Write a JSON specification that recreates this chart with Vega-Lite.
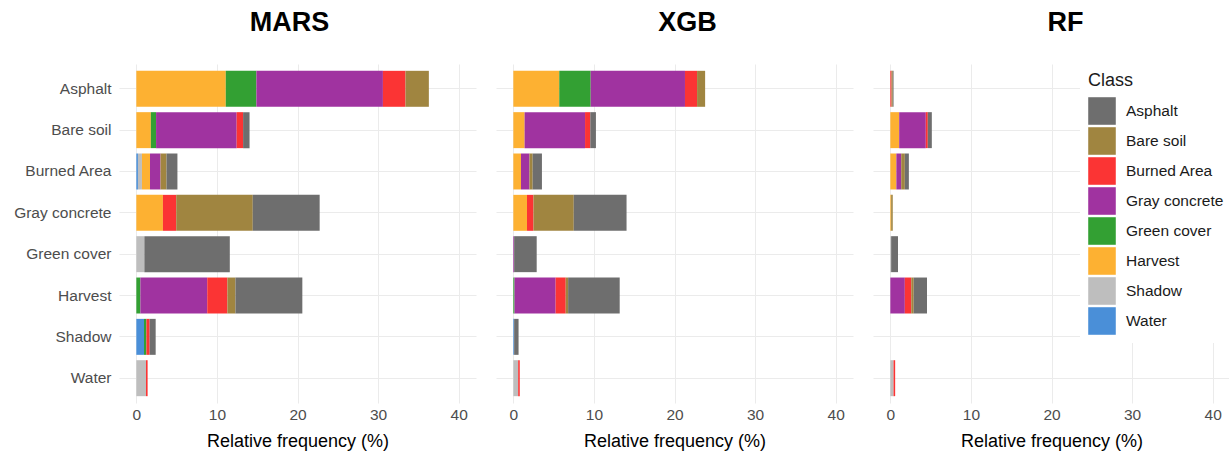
{
  "$schema": "https://vega.github.io/schema/vega-lite/v6.json",
  "background": "white",
  "padding": {"left": 13, "top": 9, "right": 0, "bottom": 0},
  "config": {
    "view": {"stroke": null},
    "font": "Liberation Sans",
    "concat": {"spacing": 20},
    "title": {"fontSize": 27, "fontWeight": "bold", "color": "black", "anchor": "middle", "offset": 27},
    "axisY": {
      "title": null,
      "ticks": false,
      "domain": false,
      "grid": true,
      "bandPosition": 0.5,
      "gridColor": "#ebebeb",
      "labelFontSize": 15.5,
      "labelColor": "#4d4d4d",
      "labelPadding": 8
    },
    "axisX": {
      "titleFontSize": 18,
      "titleFontWeight": "normal",
      "titleColor": "black",
      "titlePadding": 10,
      "ticks": false,
      "domain": false,
      "grid": true,
      "gridColor": "#ebebeb",
      "labelFontSize": 15.5,
      "labelColor": "#4d4d4d",
      "labelPadding": 4
    },
    "legend": {
      "orient": "none",
      "fillColor": "white",
      "padding": 8,
      "titleFontSize": 18,
      "titleFontWeight": "normal",
      "titleColor": "#1a1a1a",
      "titlePadding": 7,
      "labelFontSize": 15.5,
      "labelColor": "#1a1a1a",
      "labelOffset": 10,
      "symbolType": "square",
      "symbolSize": 760,
      "symbolStrokeWidth": 0,
      "symbolOpacity": 1,
      "rowPadding": 2
    }
  },
  "datasets": {
    "freq": [
      {"model": "MARS", "row": "Asphalt", "class": "Harvest", "value": 11.1},
      {"model": "MARS", "row": "Asphalt", "class": "Green cover", "value": 3.8},
      {"model": "MARS", "row": "Asphalt", "class": "Gray concrete", "value": 15.7},
      {"model": "MARS", "row": "Asphalt", "class": "Burned Area", "value": 2.8},
      {"model": "MARS", "row": "Asphalt", "class": "Bare soil", "value": 2.9},
      {"model": "MARS", "row": "Bare soil", "class": "Harvest", "value": 1.8},
      {"model": "MARS", "row": "Bare soil", "class": "Green cover", "value": 0.65},
      {"model": "MARS", "row": "Bare soil", "class": "Gray concrete", "value": 10.0},
      {"model": "MARS", "row": "Bare soil", "class": "Burned Area", "value": 0.8},
      {"model": "MARS", "row": "Bare soil", "class": "Asphalt", "value": 0.8},
      {"model": "MARS", "row": "Burned Area", "class": "Water", "value": 0.2},
      {"model": "MARS", "row": "Burned Area", "class": "Shadow", "value": 0.5},
      {"model": "MARS", "row": "Burned Area", "class": "Harvest", "value": 1.0},
      {"model": "MARS", "row": "Burned Area", "class": "Gray concrete", "value": 1.3},
      {"model": "MARS", "row": "Burned Area", "class": "Bare soil", "value": 0.75},
      {"model": "MARS", "row": "Burned Area", "class": "Asphalt", "value": 1.35},
      {"model": "MARS", "row": "Gray concrete", "class": "Harvest", "value": 3.3},
      {"model": "MARS", "row": "Gray concrete", "class": "Burned Area", "value": 1.65},
      {"model": "MARS", "row": "Gray concrete", "class": "Bare soil", "value": 9.5},
      {"model": "MARS", "row": "Gray concrete", "class": "Asphalt", "value": 8.3},
      {"model": "MARS", "row": "Green cover", "class": "Shadow", "value": 1.0},
      {"model": "MARS", "row": "Green cover", "class": "Asphalt", "value": 10.6},
      {"model": "MARS", "row": "Harvest", "class": "Green cover", "value": 0.5},
      {"model": "MARS", "row": "Harvest", "class": "Gray concrete", "value": 8.3},
      {"model": "MARS", "row": "Harvest", "class": "Burned Area", "value": 2.5},
      {"model": "MARS", "row": "Harvest", "class": "Bare soil", "value": 1.0},
      {"model": "MARS", "row": "Harvest", "class": "Asphalt", "value": 8.3},
      {"model": "MARS", "row": "Shadow", "class": "Water", "value": 0.95},
      {"model": "MARS", "row": "Shadow", "class": "Green cover", "value": 0.3},
      {"model": "MARS", "row": "Shadow", "class": "Burned Area", "value": 0.4},
      {"model": "MARS", "row": "Shadow", "class": "Asphalt", "value": 0.75},
      {"model": "MARS", "row": "Water", "class": "Shadow", "value": 1.2},
      {"model": "MARS", "row": "Water", "class": "Burned Area", "value": 0.2},
      {"model": "XGB", "row": "Asphalt", "class": "Harvest", "value": 5.7},
      {"model": "XGB", "row": "Asphalt", "class": "Green cover", "value": 3.9},
      {"model": "XGB", "row": "Asphalt", "class": "Gray concrete", "value": 11.7},
      {"model": "XGB", "row": "Asphalt", "class": "Burned Area", "value": 1.5},
      {"model": "XGB", "row": "Asphalt", "class": "Bare soil", "value": 1.0},
      {"model": "XGB", "row": "Bare soil", "class": "Harvest", "value": 1.4},
      {"model": "XGB", "row": "Bare soil", "class": "Gray concrete", "value": 7.5},
      {"model": "XGB", "row": "Bare soil", "class": "Burned Area", "value": 0.65},
      {"model": "XGB", "row": "Bare soil", "class": "Asphalt", "value": 0.7},
      {"model": "XGB", "row": "Burned Area", "class": "Harvest", "value": 0.95},
      {"model": "XGB", "row": "Burned Area", "class": "Gray concrete", "value": 1.05},
      {"model": "XGB", "row": "Burned Area", "class": "Bare soil", "value": 0.4},
      {"model": "XGB", "row": "Burned Area", "class": "Asphalt", "value": 1.15},
      {"model": "XGB", "row": "Gray concrete", "class": "Harvest", "value": 1.7},
      {"model": "XGB", "row": "Gray concrete", "class": "Burned Area", "value": 0.8},
      {"model": "XGB", "row": "Gray concrete", "class": "Bare soil", "value": 5.0},
      {"model": "XGB", "row": "Gray concrete", "class": "Asphalt", "value": 6.55},
      {"model": "XGB", "row": "Green cover", "class": "Gray concrete", "value": 0.1},
      {"model": "XGB", "row": "Green cover", "class": "Asphalt", "value": 2.8},
      {"model": "XGB", "row": "Harvest", "class": "Green cover", "value": 0.15},
      {"model": "XGB", "row": "Harvest", "class": "Gray concrete", "value": 5.1},
      {"model": "XGB", "row": "Harvest", "class": "Burned Area", "value": 1.25},
      {"model": "XGB", "row": "Harvest", "class": "Bare soil", "value": 0.3},
      {"model": "XGB", "row": "Harvest", "class": "Asphalt", "value": 6.4},
      {"model": "XGB", "row": "Shadow", "class": "Water", "value": 0.1},
      {"model": "XGB", "row": "Shadow", "class": "Asphalt", "value": 0.55},
      {"model": "XGB", "row": "Water", "class": "Shadow", "value": 0.6},
      {"model": "XGB", "row": "Water", "class": "Burned Area", "value": 0.2},
      {"model": "RF", "row": "Asphalt", "class": "Burned Area", "value": 0.15},
      {"model": "RF", "row": "Asphalt", "class": "Bare soil", "value": 0.15},
      {"model": "RF", "row": "Asphalt", "class": "Asphalt", "value": 0.1},
      {"model": "RF", "row": "Bare soil", "class": "Harvest", "value": 1.1},
      {"model": "RF", "row": "Bare soil", "class": "Gray concrete", "value": 3.3},
      {"model": "RF", "row": "Bare soil", "class": "Burned Area", "value": 0.25},
      {"model": "RF", "row": "Bare soil", "class": "Asphalt", "value": 0.5},
      {"model": "RF", "row": "Burned Area", "class": "Harvest", "value": 0.75},
      {"model": "RF", "row": "Burned Area", "class": "Gray concrete", "value": 0.6},
      {"model": "RF", "row": "Burned Area", "class": "Bare soil", "value": 0.45},
      {"model": "RF", "row": "Burned Area", "class": "Asphalt", "value": 0.5},
      {"model": "RF", "row": "Gray concrete", "class": "Harvest", "value": 0.1},
      {"model": "RF", "row": "Gray concrete", "class": "Bare soil", "value": 0.2},
      {"model": "RF", "row": "Green cover", "class": "Shadow", "value": 0.1},
      {"model": "RF", "row": "Green cover", "class": "Asphalt", "value": 0.85},
      {"model": "RF", "row": "Harvest", "class": "Gray concrete", "value": 1.8},
      {"model": "RF", "row": "Harvest", "class": "Burned Area", "value": 0.8},
      {"model": "RF", "row": "Harvest", "class": "Bare soil", "value": 0.3},
      {"model": "RF", "row": "Harvest", "class": "Asphalt", "value": 1.65},
      {"model": "RF", "row": "Water", "class": "Shadow", "value": 0.4},
      {"model": "RF", "row": "Water", "class": "Burned Area", "value": 0.2}
    ]
  },
  "data": {"name": "freq"},
  "hconcat": [
    {
      "title": {"text": "MARS", "dx": -8},
      "width": 357,
      "height": 339,
      "transform": [{"filter": "datum.model === 'MARS'"}],
      "mark": {"type": "bar"},
      "encoding": {
        "y": {
          "field": "row", "type": "nominal",
          "sort": ["Asphalt", "Bare soil", "Burned Area", "Gray concrete", "Green cover", "Harvest", "Shadow", "Water"],
          "scale": {"domain": ["Asphalt", "Bare soil", "Burned Area", "Gray concrete", "Green cover", "Harvest", "Shadow", "Water"], "paddingInner": 0.13, "paddingOuter": 0.165}
        },
        "x": {
          "field": "value", "type": "quantitative", "stack": "zero",
          "scale": {"domain": [-2.15, 42.15], "nice": false, "zero": false},
          "axis": {"title": "Relative frequency (%)", "values": [0, 10, 20, 30, 40]}
        },
        "color": {
          "field": "class", "type": "nominal",
          "scale": {
            "domain": ["Asphalt", "Bare soil", "Burned Area", "Gray concrete", "Green cover", "Harvest", "Shadow", "Water"],
            "range": ["#6e6e6e", "#a08540", "#fb3434", "#a033a0", "#33a033", "#fdb132", "#bebebe", "#4a8fd8"]
          },
          "legend": {"title": "Class", "legendX": 961, "legendY": 0}
        },
        "order": {"field": "class", "sort": "descending"}
      }
    },
    {
      "title": {"text": "XGB", "dx": 13},
      "width": 357,
      "height": 339,
      "transform": [{"filter": "datum.model === 'XGB'"}],
      "mark": {"type": "bar"},
      "encoding": {
        "y": {
          "field": "row", "type": "nominal",
          "sort": ["Asphalt", "Bare soil", "Burned Area", "Gray concrete", "Green cover", "Harvest", "Shadow", "Water"],
          "scale": {"domain": ["Asphalt", "Bare soil", "Burned Area", "Gray concrete", "Green cover", "Harvest", "Shadow", "Water"], "paddingInner": 0.13, "paddingOuter": 0.165},
          "axis": {"labels": false, "minExtent": 0}
        },
        "x": {
          "field": "value", "type": "quantitative", "stack": "zero",
          "scale": {"domain": [-2.15, 42.15], "nice": false, "zero": false},
          "axis": {"title": "Relative frequency (%)", "values": [0, 10, 20, 30, 40]}
        },
        "color": {
          "field": "class", "type": "nominal",
          "scale": {
            "domain": ["Asphalt", "Bare soil", "Burned Area", "Gray concrete", "Green cover", "Harvest", "Shadow", "Water"],
            "range": ["#6e6e6e", "#a08540", "#fb3434", "#a033a0", "#33a033", "#fdb132", "#bebebe", "#4a8fd8"]
          },
          "legend": {"title": "Class", "legendX": 961, "legendY": 0}
        },
        "order": {"field": "class", "sort": "descending"}
      }
    },
    {
      "title": {"text": "RF", "dx": 14},
      "width": 357,
      "height": 339,
      "transform": [{"filter": "datum.model === 'RF'"}],
      "mark": {"type": "bar"},
      "encoding": {
        "y": {
          "field": "row", "type": "nominal",
          "sort": ["Asphalt", "Bare soil", "Burned Area", "Gray concrete", "Green cover", "Harvest", "Shadow", "Water"],
          "scale": {"domain": ["Asphalt", "Bare soil", "Burned Area", "Gray concrete", "Green cover", "Harvest", "Shadow", "Water"], "paddingInner": 0.13, "paddingOuter": 0.165},
          "axis": {"labels": false, "minExtent": 0}
        },
        "x": {
          "field": "value", "type": "quantitative", "stack": "zero",
          "scale": {"domain": [-2.15, 42.15], "nice": false, "zero": false},
          "axis": {"title": "Relative frequency (%)", "values": [0, 10, 20, 30, 40]}
        },
        "color": {
          "field": "class", "type": "nominal",
          "scale": {
            "domain": ["Asphalt", "Bare soil", "Burned Area", "Gray concrete", "Green cover", "Harvest", "Shadow", "Water"],
            "range": ["#6e6e6e", "#a08540", "#fb3434", "#a033a0", "#33a033", "#fdb132", "#bebebe", "#4a8fd8"]
          },
          "legend": {"title": "Class", "legendX": 961, "legendY": 0}
        },
        "order": {"field": "class", "sort": "descending"}
      }
    }
  ]
}
